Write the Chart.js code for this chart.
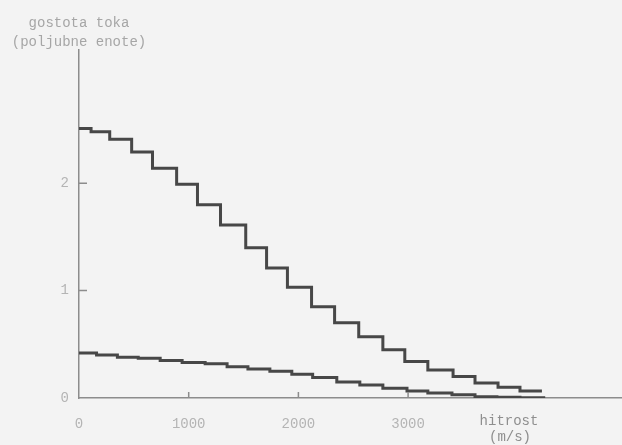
<!DOCTYPE html>
<html>
<head>
<meta charset="utf-8">
<script src="https://cdn.jsdelivr.net/npm/chart.js@4/dist/chart.umd.min.js"></script>
<style>
  html, body { margin: 0; padding: 0; background: #f3f3f3; }
  #wrap { width: 622px; height: 445px; position: relative; }
</style>
</head>
<body>
<div id="wrap"><canvas id="chart"></canvas></div>
<script>
// velocity breakpoints (m/s) and levels for the two staircase curves
const upperX = [0, 110, 280, 480, 670, 890, 1080, 1290, 1520, 1710, 1900, 2120, 2330, 2550, 2770, 2970, 3180, 3410, 3610, 3820, 4020, 4220];
const upperY = [2.51, 2.48, 2.41, 2.29, 2.14, 1.99, 1.80, 1.61, 1.40, 1.21, 1.03, 0.85, 0.70, 0.57, 0.45, 0.34, 0.26, 0.20, 0.14, 0.10, 0.065, 0.065];
const lowerX = [0, 160, 350, 540, 740, 940, 1150, 1350, 1540, 1740, 1940, 2130, 2350, 2560, 2770, 2990, 3180, 3400, 3610, 3810, 4020, 4250];
const lowerY = [0.42, 0.40, 0.38, 0.37, 0.35, 0.33, 0.32, 0.29, 0.27, 0.25, 0.22, 0.19, 0.15, 0.12, 0.09, 0.065, 0.047, 0.03, 0.012, 0.006, 0.003, 0.003];

const xTicks = [0, 1000, 2000, 3000];
const yTicks = [0, 1, 2];

const colors = {
    line: '#474747',
    axis: '#8c8c8c',
    tick: '#b4b4b4',
    title: '#a6a6a6',
    xTitle: '#8e8e8e'
};
const mono = 'Liberation Mono, DejaVu Sans Mono, monospace';

const toPoints = (xs, ys) => xs.map((x, i) => ({ x: x, y: ys[i] }));

// short tick marks pointing into the plot, plus the axis titles
const extras = {
    id: 'extras',
    afterDraw(chart) {
        const ctx = chart.ctx;
        const xs = chart.scales.x, ys = chart.scales.y;
        const area = chart.chartArea;
        ctx.save();
        ctx.strokeStyle = colors.axis;
        ctx.lineWidth = 1.5;
        ctx.beginPath();
        xTicks.slice(1).forEach(v => {
            const px = xs.getPixelForValue(v);
            ctx.moveTo(px, area.bottom);
            ctx.lineTo(px, area.bottom - 6);
        });
        yTicks.slice(1).forEach(v => {
            const py = ys.getPixelForValue(v);
            ctx.moveTo(area.left, py);
            ctx.lineTo(area.left + 8, py);
        });
        ctx.stroke();

        ctx.font = '14px ' + mono;
        ctx.textAlign = 'center';
        ctx.textBaseline = 'middle';
        ctx.fillStyle = colors.title;
        ctx.fillText('gostota toka', area.left, 23);
        ctx.fillText('(poljubne enote)', area.left, 42);

        ctx.fillStyle = colors.xTitle;
        ctx.fillText('hitrost', 509, 421);
        ctx.fillText('(m/s)', 510, 437);
        ctx.restore();
    }
};

new Chart(document.getElementById('chart'), {
    type: 'line',
    data: {
        datasets: [
            {
                data: toPoints(upperX, upperY),
                borderColor: colors.line,
                borderWidth: 3,
                stepped: true,
                pointRadius: 0,
                fill: false
            },
            {
                data: toPoints(lowerX, lowerY),
                borderColor: colors.line,
                borderWidth: 3,
                stepped: true,
                pointRadius: 0,
                fill: false
            }
        ]
    },
    options: {
        responsive: true,
        maintainAspectRatio: false,
        animation: false,
        layout: { padding: { top: 50, left: 0, right: 0, bottom: 0 } },
        plugins: {
            legend: { display: false },
            tooltip: { enabled: false }
        },
        scales: {
            x: {
                type: 'linear',
                min: 0,
                max: 4950,
                afterBuildTicks: s => { s.ticks = xTicks.map(v => ({ value: v })); },
                afterFit: s => { s.height = 47; },
                grid: { display: false, drawTicks: false },
                border: { color: colors.axis, width: 1.5 },
                ticks: {
                    color: colors.tick,
                    padding: 18,
                    maxRotation: 0,
                    font: { family: mono, size: 14 },
                    callback: v => String(v)
                }
            },
            y: {
                min: 0,
                max: 3.24,
                afterBuildTicks: s => { s.ticks = yTicks.map(v => ({ value: v })); },
                afterFit: s => { s.width = 79; },
                grid: { display: false, drawTicks: false },
                border: { color: colors.axis, width: 1.5 },
                ticks: {
                    color: colors.tick,
                    padding: 10,
                    font: { family: mono, size: 14 },
                    callback: v => String(v)
                }
            }
        }
    },
    plugins: [extras]
});
</script>
</body>
</html>
